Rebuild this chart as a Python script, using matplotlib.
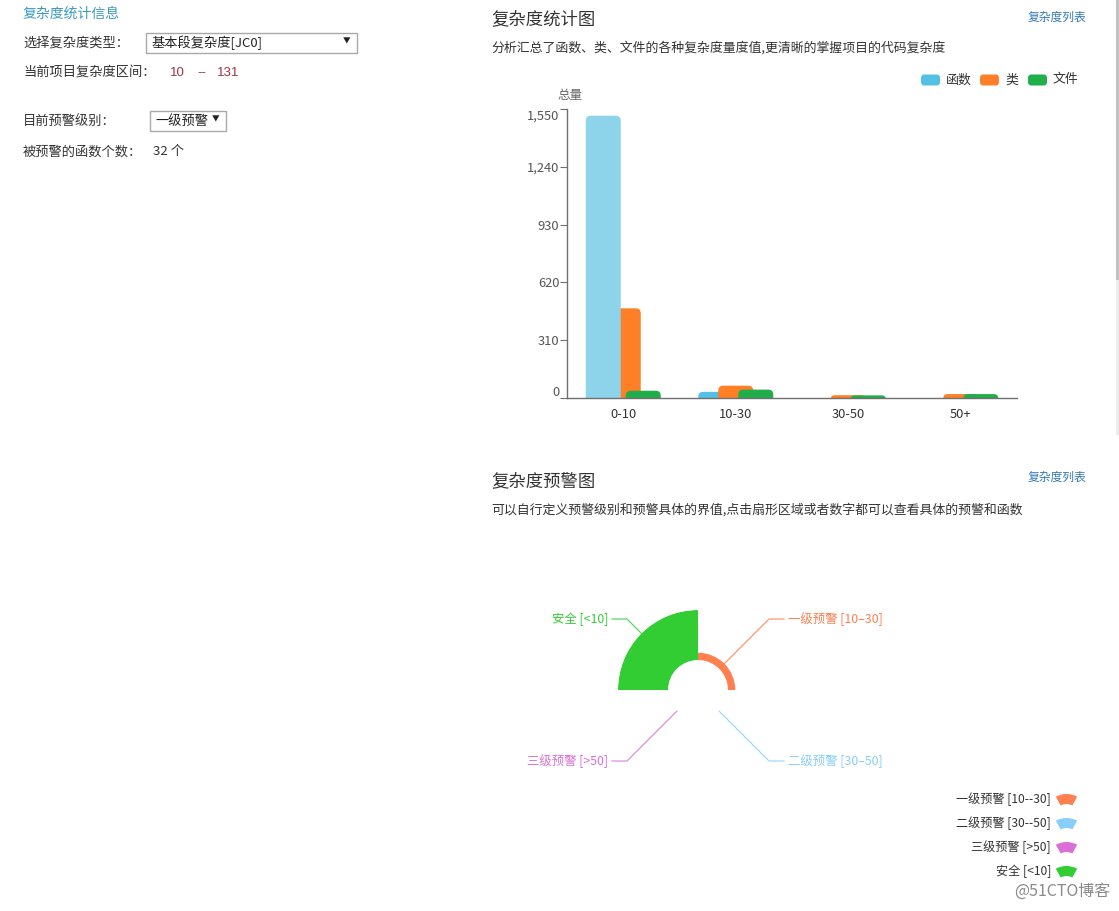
import numpy as np
import matplotlib
matplotlib.use("Agg")
import matplotlib.pyplot as plt
from matplotlib.patches import Rectangle, FancyBboxPatch, Wedge
from matplotlib.transforms import ScaledTranslation

plt.rcParams['font.family'] = ['Noto Sans CJK SC', 'DejaVu Sans']

# ---------------- data ----------------
categories = ['0-10', '10-30', '30-50', '50+']
series_names = ['函数', '类', '文件']
func_vals = [1514, 33, 0, 0]
class_vals = [481, 66, 15, 21]
file_vals = [39, 45, 14, 21]
y_ticks = [0, 310, 620, 930, 1240, 1550]
y_tick_labels = ['0', '310', '620', '930', '1,240', '1,550']
hover_index = 0  # highlighted 函数 bar

warn_names = ['一级预警 [10--30]', '二级预警 [30--50]', '三级预警 [>50]', '安全 [<10]']
warn_labels = ['一级预警 [10--30]', '二级预警 [30--50]', '三级预警 [>50]', '安全 [<10]']
warn_vals = [32, 0, 0, 1514]

W, H = 1119, 911
fig = plt.figure(figsize=(W / 100, H / 100), dpi=100)
fig.patch.set_facecolor('white')


def T(x, y, s, size=9, color='#333333', ha='left', va='center', **kw):
    return fig.text(x / W, 1 - y / H, s, fontsize=size, color=color, ha=ha, va=va, **kw)


# overlay axes in pixel coordinates (y downwards)
ov = fig.add_axes([0, 0, 1, 1], zorder=0)
ov.set_xlim(0, W)
ov.set_ylim(H, 0)
ov.set_axis_off()

# ---------------- left panel ----------------
T(23, 14, '复杂度统计信息', 10, '#3a9bbf')
T(23, 43, '选择复杂度类型：', 9.5)
ov.add_patch(Rectangle((146, 33), 211, 20, fc='white', ec='#a9a9a9', lw=1))
T(151, 43, '基本段复杂度[JC0]', 9.5, '#222222')
T(347, 42, '▼', 5.5, '#222222', ha='center')
T(23, 73, '当前项目复杂度区间：', 9.5)
T(170, 73, '10', 9.5, '#a0324a', family='Liberation Sans')
T(202, 73, '--', 9.5, '#a0324a', family='Liberation Sans', ha='center')
T(217, 73, '131', 9.5, '#a0324a', family='Liberation Sans')
T(23, 121, '目前预警级别：', 9.5)
ov.add_patch(Rectangle((150, 111), 76, 20, fc='white', ec='#a9a9a9', lw=1))
T(155, 121, '一级预警', 9.5, '#222222')
T(216, 120, '▼', 5.5, '#222222', ha='center')
T(23, 152, '被预警的函数个数：', 9.5)
T(153, 152, '32 个', 9.5)

# scrollbar
ov.add_patch(Rectangle((1115.5, 0), 3.5, 280, fc='#c1c1c1', ec='none'))
ov.add_patch(Rectangle((1115.5, 280), 3.5, 155, fc='#ececec', ec='none'))

# ---------------- bar chart section ----------------
T(491, 19, '复杂度统计图', 12.5, '#333333')
T(1086, 17, '复杂度列表', 8.5, '#337ab7', ha='right')
T(491, 48, '分析汇总了函数、类、文件的各种复杂度量度值,更清晰的掌握项目的代码复杂度', 9.3, '#333333')

colors = ['#56bfe4', '#fe7f25', '#20ad4a']
hover_color = '#8dd3ea'

leg_x = [921, 980, 1028]
for lx, c, name in zip(leg_x, colors, series_names):
    ov.add_patch(FancyBboxPatch((lx, 74.5), 19, 11, boxstyle='round,pad=0,rounding_size=3.5',
                                fc=c, ec='none'))
    T(lx + 25, 80, name, 9.3, '#333333')

T(570, 95, '总量', 9, '#666666', ha='center')

ax_l, ax_r, ax_t, ax_b = 567, 1017, 109, 398
ax = fig.add_axes([ax_l / W, 1 - ax_b / H, (ax_r - ax_l) / W, (ax_b - ax_t) / H], zorder=2)
ax.set_xlim(-0.5, len(categories) - 0.5)
ax.set_ylim(0, y_ticks[-1])
ax.patch.set_alpha(0)

sx = len(categories) / (ax_r - ax_l)       # data x per pixel
sy = y_ticks[-1] / (ax_b - ax_t)           # data y per pixel
bw = 35 * sx
off = 20 * sx
xs = np.arange(len(categories))


def rounded(rects, color_list, zlist, rpx=5):
    for r, c, z in zip(rects, color_list, zlist):
        x, w, h = r.get_x(), r.get_width(), r.get_height()
        r.set_visible(False)
        if h <= 0:
            continue
        hpx = h / sy
        rad = min(rpx, w / sx / 2, (hpx + rpx) / 2)
        p = FancyBboxPatch((x, -rad * sy), w, h + rad * sy,
                           boxstyle=f'round,pad=0,rounding_size={rad * sx}',
                           mutation_aspect=sy / sx, fc=c, ec='none', zorder=z)
        ax.add_patch(p)


all_vals = [func_vals, class_vals, file_vals]
for k, vals in enumerate(all_vals):
    bars = ax.bar(xs + (k - 1) * off, vals, width=bw, color=colors[k])
    cl = [colors[k]] * len(vals)
    zl = [2 + k] * len(vals)
    if k == 0:
        cl[hover_index] = hover_color
        zl[hover_index] = 6
    rounded(bars, cl, zl)

for s in ['top', 'right']:
    ax.spines[s].set_visible(False)
for s in ['left', 'bottom']:
    ax.spines[s].set_color('#707070')
    ax.spines[s].set_linewidth(1)
    ax.spines[s].set_zorder(7)

ax.set_yticks(y_ticks, y_tick_labels)
ax.set_xticks(xs, categories)
ax.tick_params(axis='y', length=5, color='#707070', labelsize=9.3, labelcolor='#555555', pad=0.5)
ax.tick_params(axis='x', length=0, labelsize=9.3, labelcolor='#333333', pad=7)
for tick, v in zip(ax.yaxis.get_major_ticks(), y_ticks):
    dy = 0
    if v == y_ticks[0]:
        dy = 7
    elif v == y_ticks[-1]:
        dy = -6
    if dy:
        tick.label1.set_transform(tick.label1.get_transform() +
                                  ScaledTranslation(0, dy / 100, fig.dpi_scale_trans))

# ---------------- rose chart section ----------------
T(491, 481, '复杂度预警图', 12.5, '#333333')
T(1086, 477, '复杂度列表', 8.5, '#337ab7', ha='right')
T(491, 510, '可以自行定义预警级别和预警具体的界值,点击扇形区域或者数字都可以查看具体的预警和函数', 9.3, '#333333')

warn_colors = ['#ff7f50', '#87cefa', '#da70d6', '#32cd32']
cx, cy, R, r0 = 698, 690, 80, 30
vmax = max(warn_vals)
axp = fig.add_axes([(cx - R) / W, 1 - (cy + R) / H, 2 * R / W, 2 * R / H],
                   projection='polar', zorder=2)
axp.set_ylim(0, 1)
axp.set_axis_off()
axp.patch.set_alpha(0)
n = len(warn_vals)
mids = [90 - 360 / n * (i + 0.5) for i in range(n)]
heights = [(1 - r0 / R) * np.sqrt(v / vmax) for v in warn_vals]
axp.bar(np.deg2rad(mids), heights, width=2 * np.pi / n, bottom=r0 / R,
        color=warn_colors, edgecolor='none', align='center')

# label lines
for i, (lab, c, a, v) in enumerate(zip(warn_labels, warn_colors, mids, warn_vals)):
    rr = r0 + (R - r0) * np.sqrt(v / vmax)
    ca, sa = np.cos(np.deg2rad(a)), np.sin(np.deg2rad(a))
    ax0, ay0 = cx + rr * ca, cy - rr * sa
    sxn, syn = np.sign(ca), np.sign(sa)
    ex, ey = cx + sxn * 71, cy - syn * 71
    hx = ex + sxn * 15
    ov.plot([ax0, ex, hx], [ay0, ey, ey], color=c, lw=0.9, alpha=0.8)
    T(hx + sxn * 4, ey, lab.replace('--', '–'), 8.9, c, ha='left' if sxn > 0 else 'right')

# legend for rose
for j, (lab, c) in enumerate(zip(warn_names, warn_colors)):
    ry = 799 + 24 * j
    T(1051, ry, lab, 8.7, '#333333', ha='right')
    ov.add_patch(Wedge((1066.5, ry + 17), 22, 241, 299, width=10, fc=c, ec='none'))

# watermark
T(1110, 891, '@51CTO博客', 11.5, '#8a8a8a', ha='right')

fig.savefig('out.png', dpi=100, facecolor='white')
